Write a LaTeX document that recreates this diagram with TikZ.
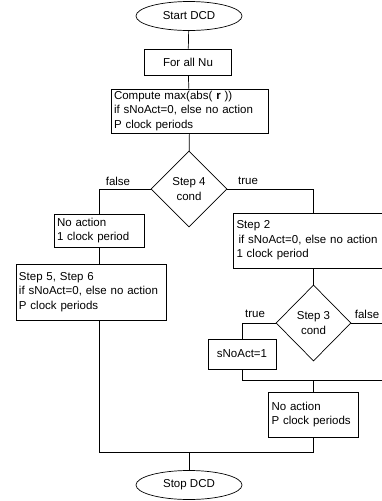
\documentclass[tikz,border=0pt]{standalone}
\usepackage{fontspec}
\setmainfont{Liberation Sans}
\usetikzlibrary{shapes.geometric}

\begin{document}
\begin{tikzpicture}[x=1pt,y=-1pt,line width=0.7pt,
  txt/.style={font=\fontsize{11.5}{14.5}\selectfont},
  box/.style={txt,draw,rectangle,inner xsep=3pt,inner ysep=0pt,align=left},
  term/.style={txt,draw,ellipse,minimum width=106pt,minimum height=29pt,inner sep=0pt},
  cond/.style={txt,draw,diamond,minimum width=76pt,minimum height=76pt,inner sep=0pt,align=center}]
\useasboundingbox (0,0) rectangle (382,501);
\node[term] (start) at (189,16) {Start DCD};
\node[box,minimum width=87pt,minimum height=26pt] (forall) at (188,62) {For all Nu};
\node[box,text width=151pt,minimum height=44pt] (compute) at (189.5,111)
  {Compute max(abs( \textbf{r} ))\\if sNoAct=0, else no action\\P clock periods};
\node[cond] (cond4) at (189,189) {Step 4\\cond};
\node[box,text width=84pt,minimum height=33pt] (noact1) at (99,230.5) {No action\\1 clock period};
\node[box,text width=144pt,minimum height=56pt] (step56) at (91,292)
  {Step 5, Step 6\\if sNoAct=0, else no action\\P clock periods};
\node[box,text width=154pt,minimum height=55pt] (step2) at (313.5,240.5)
  {Step 2\\\hspace{2pt}if sNoAct=0, else no action\\1 clock period};
\node[cond,minimum width=75pt] (cond3) at (313.5,323) {Step 3\\cond};
\node[box,minimum width=68pt,minimum height=30pt] (snoact) at (242,354) {sNoAct=1};
\node[box,text width=84pt,minimum height=45pt] (noactP) at (313.5,414.5) {No action\\P clock periods};
\node[term] (stop) at (189,485) {Stop DCD};
\node[txt] (f4) at (118,181) {false};
\node[txt] (t4) at (248,181) {true};
\node[txt] (t3) at (255,314) {true};
\node[txt] (f3) at (367,314) {false};
\coordinate (m3) at (313.5,380);
\coordinate (m3r) at (388,380);
\coordinate (mb) at (189,452);
\draw (start) -- (forall);
\draw (forall) -- (compute);
\draw (compute) -- (cond4);
\draw (cond4.west) -| (noact1.north);
\draw (cond4.east) -| (step2.north);
\draw (noact1.south) -- (noact1.south |- step56.north);
\draw (step2.south) -- (cond3.north);
\draw (cond3.west) -| (snoact.north);
\draw (cond3.east) -| (m3r);
\draw (snoact.south) |- (m3r);
\draw (m3) -- (noactP.north);
\draw (noact1.south |- step56.south) |- (mb);
\draw (noactP.south) |- (mb);
\draw (mb) -- (stop);
\end{tikzpicture}
\end{document}
